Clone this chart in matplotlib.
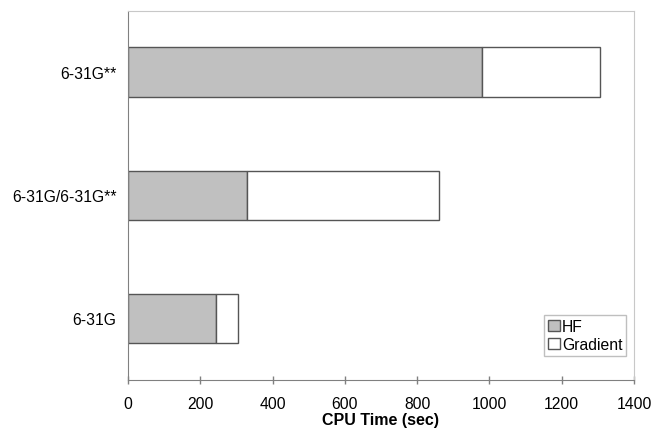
import matplotlib.pyplot as plt
import numpy as np

# data
basis_sets = ["6-31G", "6-31G/6-31G**", "6-31G**"]
hf_time = [243, 330, 980]
gradient_time = [61, 531, 325]
xticks = [0, 200, 400, 600, 800, 1000, 1200, 1400]

plt.rcParams["font.family"] = ["Liberation Sans", "DejaVu Sans"]

fig = plt.figure(figsize=(6.52, 4.35), dpi=100)
ax = fig.add_axes([128 / 652, 1 - 381 / 435, 506 / 652, 369.5 / 435])

y = np.arange(len(basis_sets))
ax.barh(y, hf_time, height=0.4, color="#c0c0c0", edgecolor="#555555",
        linewidth=1.0, label="HF")
ax.barh(y, gradient_time, left=hf_time, height=0.4, color="white",
        edgecolor="#555555", linewidth=1.0, label="Gradient")

ax.set_xlim(0, 1400)
ax.set_ylim(-0.5, 2.5)
ax.set_xticks(xticks)
ax.set_yticks(y)
ax.set_yticklabels(basis_sets)
ax.tick_params(axis="x", direction="inout", length=5.8, width=1,
               color="#808080", labelsize=11.3, pad=8.5)
ax.tick_params(axis="y", length=0, labelsize=11.3, pad=8.3)
ax.set_xlabel("CPU Time (sec)", fontsize=11.5, fontweight="bold", labelpad=1)

for side in ["left", "bottom"]:
    ax.spines[side].set_color("#808080")
for side in ["top", "right"]:
    ax.spines[side].set_color("#c8c8c8")

leg = ax.legend(loc="lower right", bbox_to_anchor=(0.985, 0.065),
                fontsize=11.3, frameon=True, fancybox=False, handlelength=0.75,
                handleheight=0.75, handletextpad=0.15, borderpad=0.25,
                labelspacing=0.2, borderaxespad=0)
leg.get_frame().set_edgecolor("#b0b0b0")
leg.get_frame().set_linewidth(1.0)

fig.savefig("out.png", dpi=100)
